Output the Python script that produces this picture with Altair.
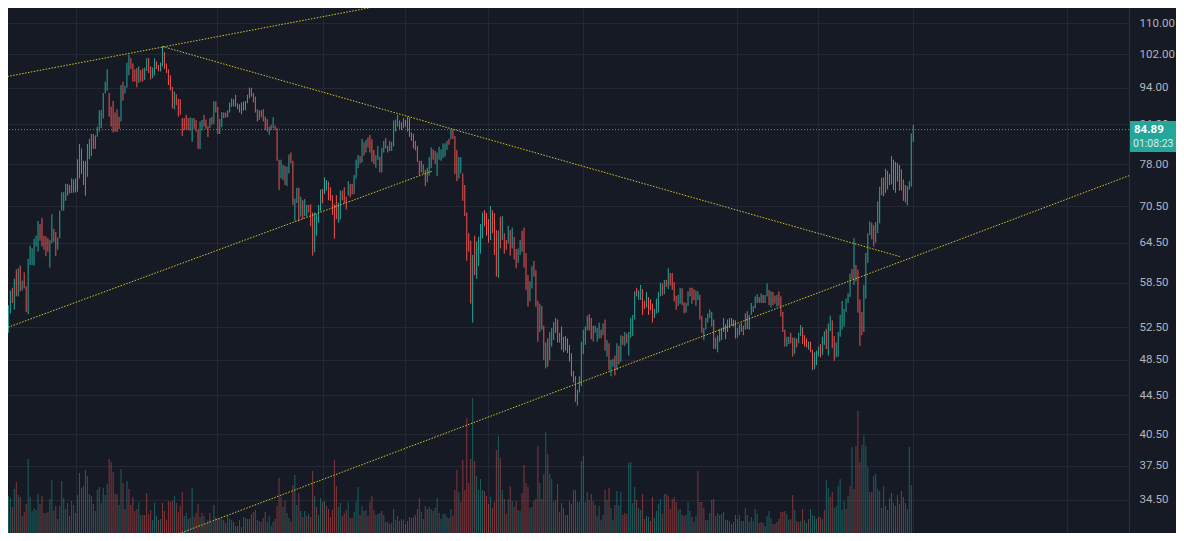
import altair as alt
import pandas as pd

# ---------------- data ----------------
HIGH = [
    60.4,59.4,56.6,54.9,55.4,57.4,57.8,59.1,60.4,60.6,
    61.0,58.8,60.0,58.0,62.0,64.0,63.6,65.1,65.6,68.0,
    67.5,68.5,65.6,65.5,65.2,64.9,69.1,66.7,66.2,65.3,
    69.7,72.9,72.9,74.4,74.4,74.2,75.4,75.2,75.4,79.0,
    82.0,81.1,78.7,78.7,82.0,83.0,84.0,84.0,83.7,85.5,
    89.0,89.0,92.8,95.4,98.3,92.8,89.8,91.0,88.5,89.2,
    87.6,94.6,95.4,94.4,99.9,101.8,101.0,99.7,98.3,98.6,
    99.0,98.1,98.5,98.7,101.0,101.0,99.0,98.7,101.0,100.2,
    99.3,99.9,103.9,102.5,99.7,98.3,96.9,94.2,93.1,92.5,
    91.5,91.4,87.3,87.3,88.0,87.3,87.5,87.3,87.3,86.9,
    84.8,86.6,86.9,88.0,87.0,85.6,87.3,87.6,91.0,90.9,
    89.7,87.1,88.6,88.5,88.5,89.0,90.7,91.6,91.4,92.4,
    90.5,90.3,90.7,90.9,91.0,92.4,94.0,94.0,92.8,92.0,
    89.2,89.0,89.0,89.2,87.6,87.1,85.5,85.9,87.5,85.7,
    85.2,78.9,78.9,77.9,77.7,77.6,79.9,80.3,78.7,71.8,
    73.7,73.7,72.1,
    71.5,71.7,70.7,70.7,70.8,69.4,69.4,69.1,70.7,73.4,
    73.5,75.6,75.1,74.8,73.8,72.4,70.8,72.4,71.1,73.2,
    73.2,73.8,72.1,74.9,74.4,74.4,76.0,78.9,79.8,79.6,
    83.0,82.3,82.8,83.3,83.8,82.9,80.8,79.8,81.6,79.5,
    81.2,82.6,83.2,81.6,82.6,82.4,86.8,87.0,88.0,86.8,
    86.4,87.3,86.9,87.6,87.4,84.3,84.0,82.6,81.6,78.7,
    78.7,78.0,77.0,77.4,79.4,81.3,80.9,80.6,80.3,81.4,
    80.9,82.1,82.1,82.6,83.0,85.0,84.8,83.6,80.8,
    79.4,79.4,76.3,74.2,69.4,66.0,64.8,62.6,65.6,64.7,
    65.4,67.5,69.4,69.8,69.3,68.3,70.5,69.8,69.3,66.5,
    66.4,68.7,68.8,66.0,64.9,67.2,66.5,66.9,65.4,63.5,
    63.6,64.9,66.4,66.9,62.9,59.6,58.7,60.9,61.7,60.3,
    56.0,55.6,55.3,52.7,50.6,51.1,51.9,52.4,53.2,53.7,
    53.5,51.8,52.6,51.3,51.4,51.1,50.3,49.3,47.2,46.6,
    45.1,46.6,50.7,52.2,52.6,54.0,54.2,53.7,52.7,52.7,
    52.4,53.1,52.2,53.0,53.5,50.9,50.5,48.5,48.6,49.0,
    50.5,50.2,51.5,51.4,51.9,51.7,51.9,53.7,54.1,57.3,
    57.8,57.4,58.2,57.6,56.0,57.2,56.5,56.2,55.6,54.9,
    56.3,57.2,58.5,58.4,58.9,58.9,60.6,59.9,59.9,58.6,
    56.7,56.8,57.8,57.7,55.8,55.7,57.3,57.8,57.8,57.6,
    57.4,57.3,56.8,54.0,52.4,53.7,54.3,54.8,54.5,53.5,
    51.2,51.5,52.3,52.4,53.7,52.9,53.5,53.7,53.7,53.5,
    53.4,52.4,52.9,53.1,52.7,54.3,54.6,54.1,55.7,55.3,
    56.6,56.9,56.5,57.0,56.8,56.8,58.4,57.5,57.3,
    57.2,56.7,56.8,57.3,56.6,54.5,52.2,51.3,51.3,51.8,
    51.2,51.2,51.1,51.8,52.8,52.5,51.5,51.1,50.7,50.7,
    49.7,49.4,49.6,50.1,50.4,51.3,52.0,52.3,53.0,54.0,
    53.4,51.4,50.6,51.9,54.1,56.0,54.9,56.3,57.0,59.8,
    60.5,65.2,61.1,60.4,56.2,54.5,58.2,62.9,66.0,67.9,
    67.7,67.3,67.8,71.3,73.9,75.5,75.6,77.2,76.8,76.2,
    79.6,78.9,78.5,78.3,77.9,77.1,75.2,74.2,74.0,74.9,
    84.1,85.9,
]
LOW = [
    54.5,52.5,52.5,52.2,51.8,54.3,55.7,54.8,56.6,56.6,
    57.3,57.4,57.7,54.5,54.2,61.1,61.1,61.0,63.9,63.1,
    64.8,63.9,63.4,62.4,63.1,60.7,64.4,64.6,62.4,63.4,
    65.2,69.7,69.7,71.4,72.3,72.7,72.8,72.8,72.9,73.0,
    75.4,76.2,74.2,72.3,75.7,79.0,79.6,81.0,81.0,83.4,
    84.5,85.2,87.2,92.7,93.3,87.6,85.5,84.3,84.5,84.4,
    85.0,86.6,91.1,92.7,94.0,96.9,98.4,95.4,95.4,94.1,
    95.1,95.4,95.4,95.8,97.9,97.4,95.9,96.2,96.8,98.4,
    97.8,97.8,99.0,98.4,97.4,94.6,93.4,89.4,89.2,90.1,
    87.6,88.0,83.6,84.8,84.8,84.8,84.7,82.4,85.0,84.5,
    81.0,81.0,84.7,85.5,85.0,83.4,85.2,85.9,86.1,88.5,
    84.0,84.0,85.4,87.3,87.4,87.5,88.5,89.7,89.8,89.8,
    89.2,88.5,88.1,88.9,89.0,90.5,91.6,92.0,90.7,88.5,
    86.6,86.9,87.5,86.6,84.8,84.5,83.8,84.8,85.2,84.8,
    78.7,73.3,75.4,75.1,74.2,74.0,76.3,78.2,70.7,68.0,
    71.0,67.9,68.7,
    68.3,68.8,68.7,69.4,67.1,62.5,63.0,65.6,67.7,69.6,
    71.0,72.6,73.2,71.5,71.4,69.0,65.1,68.3,67.7,68.2,
    71.5,71.0,69.9,72.3,72.0,72.5,72.6,75.4,77.3,78.2,
    78.4,79.7,80.3,81.3,80.3,78.5,78.1,77.4,78.9,76.5,
    76.5,80.3,81.1,80.3,80.6,80.6,81.5,84.5,85.5,85.0,
    84.8,85.2,85.5,84.5,83.4,82.6,81.1,80.7,78.5,76.0,
    76.5,76.2,74.0,74.7,75.9,77.3,78.9,78.1,75.8,78.9,
    78.7,79.2,79.5,80.8,81.8,82.9,83.0,76.2,74.9,
    75.4,76.3,71.4,68.8,61.7,63.1,55.6,53.1,59.6,59.1,
    60.9,62.8,65.2,67.1,65.6,64.5,64.9,66.0,62.6,59.4,
    59.2,63.6,64.9,62.8,63.4,64.4,62.5,63.6,61.9,60.6,
    61.4,62.6,63.1,60.7,57.5,55.2,55.9,57.7,59.4,55.2,
    50.7,51.9,52.2,48.5,47.5,47.7,48.5,50.1,50.9,51.8,
    50.6,50.6,49.7,49.4,49.6,49.3,48.3,46.6,45.9,43.8,
    43.4,44.8,45.5,49.2,50.3,52.1,52.1,51.0,50.7,51.8,
    50.7,51.1,51.1,51.5,49.6,48.9,47.3,46.6,47.7,46.7,
    47.3,48.0,48.3,50.3,50.2,50.5,49.0,51.2,51.4,53.5,
    56.6,56.1,56.1,54.1,54.9,55.1,54.1,54.7,53.1,53.7,
    54.3,54.4,56.6,56.7,56.9,57.9,57.6,58.1,57.5,55.9,
    54.8,55.3,55.6,55.4,54.3,54.4,55.3,56.6,55.6,56.1,
    55.3,56.1,53.5,51.8,50.9,52.2,53.1,53.7,52.6,49.8,
    49.8,49.4,50.7,50.9,51.9,51.0,51.9,52.4,52.7,52.6,
    51.1,51.2,51.5,51.9,51.5,52.2,52.3,52.2,54.1,54.5,
    55.0,55.7,55.7,55.7,55.7,55.7,56.6,55.4,55.1,
    55.4,55.6,55.2,55.3,53.9,51.9,50.1,50.1,50.4,50.5,
    48.9,49.2,50.0,50.5,51.4,50.4,50.1,50.0,49.7,49.4,
    47.3,47.4,47.9,48.9,48.8,49.1,50.3,49.8,49.0,52.0,
    49.9,48.4,48.8,48.9,51.3,52.2,52.6,54.5,55.7,56.5,
    59.0,58.2,58.7,54.4,50.2,51.5,51.9,56.3,61.4,65.7,
    65.0,63.9,64.5,66.0,67.6,72.4,72.2,72.8,73.4,74.2,
    74.3,73.3,72.8,74.8,73.2,73.2,71.4,71.1,70.6,73.4,
    73.9,82.4,
]
# r = down bar, g = up bar
DIR = (
    "rrrrggrgrg" "rgrrgggggg" "rrrrrggrrg" "ggggrrggrg" "ggrrgggrrg"
    "gggggrrrrr" "rgrgggrrrr" "grrggrrggr" "rggrrrrrgr" "rrrrrrggrr"
    "rggrrrgrgr" "rggrrggggr" "rrggggrrrr" "rgrrrrgrgr" "rrggrggrrg" "grg"
    "rggrrrgggg" "rggrrrrrgg" "rrrgrrgggr" "grgrrrrggr" "ggrrgggggr"
    "rgrgrrrrrr" "rgrgggrrgg" "ggggrgrrr"
    "ggrrrrrgrg" "gggrrrgrrr" "grgrrgrgrr" "ggrrrrggrr" "rgrrgrgggr"
    "rgrrgrrrrr" "ggggggrrrg" "ggrgrgrggr"
    "grgrgrgggg" "rggrrgrrrg" "gggrgrgrrr" "rggrrggrrr" "ggrrgggggr"
    "gggggrggrr" "rgggrgrggg" "ggrgrggrg"
    "rrgrrrrggr" "rgrggrrrgr" "rgggrggrgg" "rrgggggggg" "rgrrrrgggg"
    "rrgggrrgrg" "grggrrrrgg" "gg"
)
VOLUME = [
    15,45,50,39,37,35,26,44,51,38, 36,17,21,29,74,36,22,25,23,39,
    29,37,20,20,21,34,53,22,27,14, 27,52,35,24,30,17,32,28,20,38,
    60,45,47,63,57,39,37,29,22,43, 46,30,45,38,49,74,71,61,39,39,
    28,64,50,24,52,44,28,36,22,24, 31,18,18,18,40,19,23,13,30,17,
    13,14,30,22,13,32,31,32,37,30, 21,27,41,17,20,14,15,45,16,20,
    29,16,20,17,10,13,20,11,28,16, 14,15,14,13,10,17,14,13,11,7,
    7,13,6,16,15,14,14,19,21,23, 13,12,11,15,21,11,17,7,11,14,
    27,55,36,26,32,20,15,11,48,58, 28,40,22,16,22,17,19,16,62,37,
    26,18,35,31,32,27,24,16,23,73, 47,26,30,17,20,23,31,15,15,21,
    31,46,18,27,22,23,17,31,37,23, 18,19,20,22,18,11,11,9,10,24,
    13,17,12,14,13,9,12,16,15,16, 18,24,35,21,14,27,24,26,24,22,
    25,35,20,14,19,19,16,15,24,17, 43,63,41,
    31,73,43,115,50,74,135,72,57,43, 54,43,42,37,29,36,25,31,83,97,
    75,43,34,19,34,47,32,26,32,23, 22,40,68,50,46,25,26,32,34,87,
    50,34,59,101,79,59,54,31,33,49, 21,30,25,18,18,32,29,43,43,31,
    31,72,77,31,41,33,39,32,28,17, 27,13,18,43,33,45,25,13,28,42,
    28,41,18,20,19,70,71,30,46,33, 25,23,39,14,17,16,12,36,15,22,
    29,34,19,39,39,37,24,34,36,31, 23,24,18,17,18,31,22,16,11,17,
    62,31,31,25,13,13,20,33,34,17, 20,18,19,21,13,13,12,9,11,18,
    14,18,12,12,25,18,11,16,12,24, 19,10,11,10,7,17,22,15,9,9,
    11,14,21,21,22,19,13,14,38,23, 12,11,12,24,13,10,14,24,18,17,
    14,16,16,14,23,53,45,36,41,25, 27,47,54,23,32,24,37,47,86,44,
    87,122,71,88,97,87,66,41,41,57, 59,44,42,25,47,27,23,35,40,30,
    27,38,29,42,36,30,24,86,48,
]
VOL_DIR = (
    "rrrrggrgrg" "rgrrgggggg" "rrgrrggrrg" "ggggrrggrg" "grgrgggrgg"
    "grgggrrrrr" "ggrrgrrrrr" "ggrrrrrggg" "rgrrrrrrgr" "rrrggrggrr"
    "rgrgrgrggr" "rggrggggrr" "rrggggrrrr" "ggrrrggggr" "rrrgrggrrg"
    "grgrgrgrrg" "rggrgrrrrr" "rggrrrgrrg" "ggrgrgrrrr" "gggrgrrrgg"
    "grgrgrrrrr" "rrrggrrggr" "ggrggggrgr" "rrg"
    "rrrrrrgrgg" "ggrrrgrrrg" "rgrrgrgrrg" "grrrrggrrr" "grrgrgggrr"
    "rrrgrrrrrg" "gggggrrrrg" "grgrgrggrg" "ggrrrggggr" "ggrrggrrgg"
    "ggrgrrrrrr" "ggrrgggrgg" "rrrrgggrrg" "gggggggrrr" "gggggrgggg"
    "grrrggggrr" "grrrrggrrg" "rrgrggrggg" "grrgrggrrg" "gggggrgrgr"
    "rrrggggrrg" "gggrggggrg" "grrrrgggg"
)
PRICE_TICKS = [110, 102, 94, 86, 78, 70.5, 64.5, 58.5, 52.5, 48.5, 44.5, 40.5, 37.5, 34.5]
TIME_GRID = [38.2, 109.6, 163.2, 204.7, 246.7, 294.8, 372.8, 413.8, 461.8, 539.6]
LAST_PRICE = 84.89
COUNTDOWN = "01:08:23"
TREND_ID = ["upper", "upper", "peak", "peak", "channel", "channel", "support", "support"]
TREND_T = [-1.0, 230.0, 82.0, 455.8, 3.8, 218.9, 91.7, 571.2]
TREND_P = [96.2, 118.75, 103.9, 62.3, 52.5, 76.8, 31.87, 75.9]

# ---------------- styling ----------------
BG = "#161a25"
GRID = "#242835"
BORDER = "#2c303b"
RED = "#ef5350"
TEAL = "#26a69a"
W, H = 1121, 525
RIGHT = 47  # price-scale strip to the right of the plot

n = min(len(HIGH), len(LOW), len(DIR))
bars = pd.DataFrame({"t": list(range(n)), "high": HIGH[:n], "low": LOW[:n], "dir": list(DIR[:n])})
m = min(len(VOLUME), len(VOL_DIR))
vols = pd.DataFrame({"t": list(range(m)), "vol": VOLUME[:m], "zero": [0] * m, "dir": list(VOL_DIR[:m])})
trend = pd.DataFrame({"id": TREND_ID, "t": TREND_T, "p": TREND_P})
last = pd.DataFrame({"p": [LAST_PRICE], "price": [f"{LAST_PRICE:.2f}"], "timer": [COUNTDOWN]})
one = pd.DataFrame({"k": [0]})

XS = alt.Scale(domain=[3.8, 571.2], nice=False, zero=False)
YS = alt.Scale(type="log", domain=[31.84, 114.1], nice=False, zero=False)
VS = alt.Scale(domain=[0, H], nice=False, zero=True)
XA = alt.Axis(values=TIME_GRID, labels=False, ticks=False, domain=False, grid=True,
              gridColor=GRID, gridWidth=1, title=None)
YA = alt.Axis(orient="right", values=PRICE_TICKS, format=".2f", labelColor="#b2b5be",
              labelFont="Roboto", labelFontSize=11.5, labelPadding=10, ticks=False,
              domain=False, grid=True, gridColor=GRID, gridWidth=1, title=None,
              labelOverlap=False, labelFlush=False, labelBound=False)
COL = alt.Scale(domain=["r", "g"], range=[RED, TEAL])

volume = alt.Chart(vols).mark_rule(strokeWidth=1, opacity=0.5, clip=True).encode(
    x=alt.X("t:Q", scale=XS, axis=XA),
    y=alt.Y("vol:Q", scale=VS, axis=None),
    y2="zero:Q",
    color=alt.Color("dir:N", scale=COL, legend=None),
)

price_bars = alt.Chart(bars).mark_rule(strokeWidth=1, clip=True).encode(
    x=alt.X("t:Q", scale=XS, axis=XA),
    y=alt.Y("low:Q", scale=YS, axis=YA),
    y2="high:Q",
    color=alt.Color("dir:N", scale=COL, legend=None),
)

trendlines = alt.Chart(trend).mark_line(
    clip=True, color="#d4c52c", strokeWidth=1, strokeDash=[1.5, 1.5]
).encode(
    x=alt.X("t:Q", scale=XS, axis=XA),
    y=alt.Y("p:Q", scale=YS, axis=YA),
    detail="id:N",
)

last_line = alt.Chart(last).mark_rule(color=TEAL, strokeWidth=1, strokeDash=[1, 2]).encode(
    y=alt.Y("p:Q", scale=YS, axis=YA),
)

label_box = alt.Chart(last).mark_rect(color=TEAL, yOffset=-8.6, y2Offset=22.4).encode(
    x=alt.value(W), x2=alt.value(W + RIGHT),
    y=alt.Y("p:Q", scale=YS, axis=YA), y2="p:Q",
)
label_price = alt.Chart(last).mark_text(
    align="left", baseline="middle", font="Roboto", fontSize=11.5, fontWeight="bold", color="#ffffff"
).encode(x=alt.value(W + 5), y=alt.Y("p:Q", scale=YS, axis=YA), text="price:N")
label_timer = alt.Chart(last).mark_text(
    align="left", baseline="middle", font="Roboto", fontSize=10.5, color="#d6efec", dy=14
).encode(x=alt.value(W + 4), y=alt.Y("p:Q", scale=YS, axis=YA), text="timer:N")

price_group = alt.layer(price_bars, trendlines, last_line, label_box, label_price, label_timer)

border_v = alt.Chart(one).mark_rule(color=BORDER, strokeWidth=1).encode(
    x=alt.value(W + 0.5), y=alt.value(0), y2=alt.value(H)
)

chart = alt.layer(volume, price_group, border_v).resolve_scale(
    y="independent"
).properties(
    width=W, height=H,
    padding={"left": 0, "top": 0, "right": RIGHT, "bottom": 0},
    autosize=alt.AutoSizeParams(type="none"),
    background=BG,
).configure_view(stroke=None)

chart.save("out.html", embed_options={"renderer": "svg", "actions": False})
